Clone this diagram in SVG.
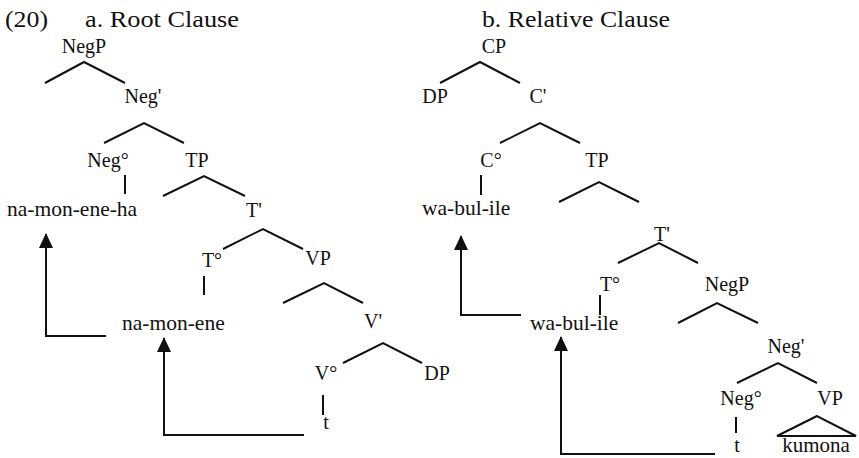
<svg xmlns="http://www.w3.org/2000/svg" width="859" height="458" viewBox="0 0 859 458">
<style>
text{font-family:"Liberation Serif","Times New Roman",serif;fill:#111}
.t{font-size:24px}
.n{font-size:20px;text-anchor:middle}
.w{font-size:21.5px}
.l{fill:none;stroke:#111;stroke-width:2}
.a{fill:none;stroke:#111;stroke-width:2;marker-end:url(#ah)}
</style>
<defs>
<marker id="ah" markerUnits="userSpaceOnUse" markerWidth="15" markerHeight="14" refX="14" refY="7" orient="auto">
<path d="M0,0 L15,7 L0,14 Z" fill="#111"/>
</marker>
</defs>
<rect width="859" height="458" fill="#fff"/>
<g id="titles">
<text class="t" x="5" y="27" textLength="43" lengthAdjust="spacingAndGlyphs">(20)</text>
<text class="t" x="85" y="27" textLength="154" lengthAdjust="spacingAndGlyphs">a. Root Clause</text>
<text class="t" x="482" y="27" textLength="188" lengthAdjust="spacingAndGlyphs">b. Relative Clause</text>
</g>
<g id="treeA">
<g id="a-NegP"><text class="n" x="84" y="53">NegP</text></g>
<g id="a-NegBar"><text class="n" x="143" y="103">Neg'</text></g>
<g id="a-Neg0"><text class="n" x="108" y="167">Neg°</text></g>
<g id="a-TP"><text class="n" x="197" y="167">TP</text></g>
<g id="a-word1"><text class="w" x="7" y="216">na-mon-ene-ha</text></g>
<g id="a-TBar"><text class="n" x="254" y="217">T'</text></g>
<g id="a-T0"><text class="n" x="212" y="267">T°</text></g>
<g id="a-VP"><text class="n" x="318" y="265">VP</text></g>
<g id="a-word2"><text class="w" x="122" y="330">na-mon-ene</text></g>
<g id="a-VBar"><text class="n" x="373" y="328">V'</text></g>
<g id="a-V0"><text class="n" x="326" y="380">V°</text></g>
<g id="a-DP"><text class="n" x="437" y="380">DP</text></g>
<g id="a-t"><text class="n" x="326" y="429">t</text></g>
</g>
<g id="treeB">
<g id="b-CP"><text class="n" x="494" y="53">CP</text></g>
<g id="b-DP"><text class="n" x="435" y="103">DP</text></g>
<g id="b-CBar"><text class="n" x="538" y="103">C'</text></g>
<g id="b-C0"><text class="n" x="491" y="167">C°</text></g>
<g id="b-TP"><text class="n" x="597" y="167">TP</text></g>
<g id="b-word1"><text class="w" x="422" y="215">wa-bul-ile</text></g>
<g id="b-TBar"><text class="n" x="662" y="241">T'</text></g>
<g id="b-T0"><text class="n" x="610" y="291">T°</text></g>
<g id="b-NegP"><text class="n" x="727" y="291">NegP</text></g>
<g id="b-word2"><text class="w" x="530" y="330">wa-bul-ile</text></g>
<g id="b-NegBar"><text class="n" x="786" y="353">Neg'</text></g>
<g id="b-Neg0"><text class="n" x="741" y="405">Neg°</text></g>
<g id="b-VP"><text class="n" x="830" y="405">VP</text></g>
<g id="b-t"><text class="n" x="737" y="452">t</text></g>
<g id="b-kumona"><text class="n" x="816" y="452" style="font-size:21px">kumona</text></g>
</g>
<g id="connectors">
<polyline class="l" points="45,83 84,62 125,83"/>
<polyline class="l" points="104,143 144,123 184,143"/>
<line class="l" x1="125" y1="175" x2="125" y2="194"/>
<polyline class="l" points="163,196 204,176 245,196"/>
<polyline class="l" points="223,249 263,229 303,249"/>
<line class="l" x1="204" y1="276" x2="204" y2="295"/>
<polyline class="l" points="283,303 324,283 363,303"/>
<polyline class="l" points="343,363 383,343 422,363"/>
<line class="l" x1="323" y1="395" x2="323" y2="415"/>
<polyline class="a" points="106,336 46,336 46,234"/>
<polyline class="a" points="304,435 164,435 164,338"/>
<polyline class="l" points="440,83 480,62 520,83"/>
<polyline class="l" points="500,143 540,123 580,143"/>
<line class="l" x1="481" y1="175" x2="481" y2="195"/>
<polyline class="l" points="559,202 599,182 639,202"/>
<polyline class="l" points="618,263 659,243 698,263"/>
<line class="l" x1="600" y1="295" x2="600" y2="315"/>
<polyline class="l" points="678,323 717,303 758,323"/>
<polyline class="l" points="737,383 778,363 817,383"/>
<line class="l" x1="736" y1="417" x2="736" y2="433"/>
<polygon class="l" points="817,416 777,436 856,436"/>
<polyline class="a" points="521,315 461,315 461,236"/>
<polyline class="a" points="715,454 561,454 561,337"/>
</g>
</svg>
